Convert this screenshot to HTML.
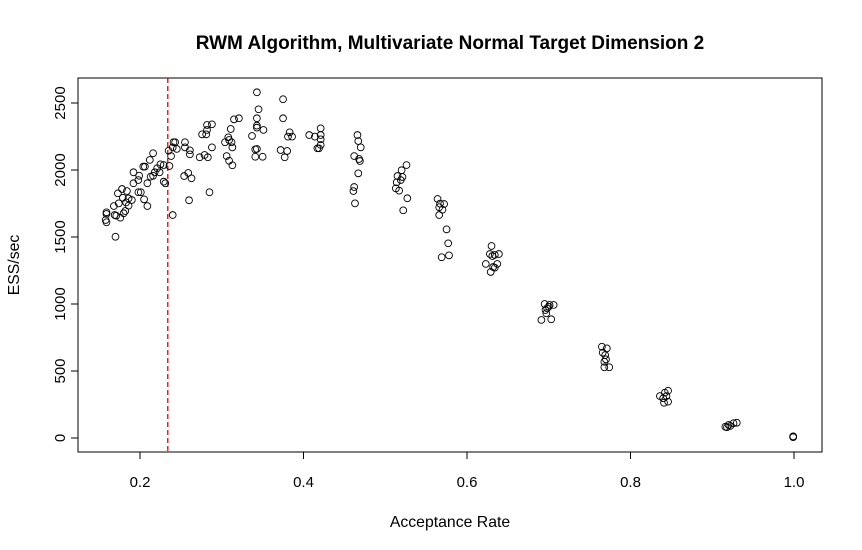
<!DOCTYPE html>
<html><head><meta charset="utf-8"><style>
body{margin:0;background:#fff}
svg{display:block;font-family:"Liberation Sans",Arial,sans-serif}
</style></head><body>
<svg id="chart" width="862" height="550">
<rect width="862" height="550" fill="#fff"/>
<text x="450" y="49" text-anchor="middle" font-weight="bold" font-size="19">RWM Algorithm, Multivariate Normal Target Dimension 2</text>
<text x="450" y="527" text-anchor="middle" font-size="15.8">Acceptance Rate</text>
<text transform="translate(19,265) rotate(-90)" text-anchor="middle" font-size="15.8">ESS/sec</text>
<rect x="78" y="78" width="744" height="374" fill="none" stroke="#000"/>
<g id="axes"></g>
<g id="points"></g>
</svg>
<script>
const xTicks=[0.2,0.4,0.6,0.8,1.0];
const xTickLabels=["0.2","0.4","0.6","0.8","1.0"];
const yTicks=[0,500,1000,1500,2000,2500];
const yTickLabels=["0","500","1000","1500","2000","2500"];
const optimalRate=0.234;
const acc=[0.343,0.375,0.345,0.315,0.321,0.343,0.375,0.343,0.343,0.351,0.421,0.383,0.381,0.386,0.407,0.414,0.421,0.421,0.417,0.419,0.421,0.337,0.311,0.282,0.288,0.276,0.281,0.282,0.308,0.309,0.304,0.312,0.313,0.341,0.343,0.341,0.350,0.372,0.380,0.377,0.288,0.273,0.279,0.283,0.306,0.309,0.313,0.285,0.260,0.240,0.254,0.259,0.263,0.255,0.255,0.261,0.261,0.241,0.243,0.240,0.245,0.238,0.235,0.236,0.229,0.231,0.216,0.212,0.225,0.229,0.221,0.204,0.206,0.218,0.213,0.216,0.224,0.192,0.199,0.209,0.198,0.192,0.198,0.201,0.205,0.209,0.178,0.184,0.173,0.179,0.186,0.190,0.183,0.174,0.186,0.168,0.182,0.180,0.169,0.171,0.176,0.159,0.159,0.158,0.159,0.170,
0.466,0.467,0.470,0.462,0.468,0.469,0.467,0.462,0.461,0.463,
0.526,0.520,0.515,0.521,0.519,0.514,0.513,0.517,0.527,0.522,
0.564,0.567,0.572,0.566,0.570,0.566,0.575,0.577,0.569,0.578,
0.630,0.628,0.634,0.639,0.631,0.623,0.632,0.637,0.634,0.629,
0.695,0.701,0.706,0.698,0.697,0.691,0.703,0.700,0.696,
0.765,0.771,0.766,0.769,0.770,0.768,0.768,0.774,
0.846,0.842,0.836,0.844,0.840,0.846,0.841,
0.916,0.920,0.926,0.930,0.922,0.918,
0.999,0.999,0.999,0.999];
const ess=[2580,2528,2453,2378,2386,2386,2386,2331,2316,2299,2311,2281,2249,2249,2261,2249,2261,2229,2162,2162,2187,2254,2306,2336,2341,2266,2266,2299,2244,2224,2207,2207,2169,2154,2157,2099,2099,2149,2142,2095,2169,2095,2112,2095,2104,2069,2035,1834,1774,1664,1955,1978,1938,2207,2169,2147,2117,2207,2207,2169,2157,2104,2144,2030,1913,1901,2125,2075,2042,2037,2013,2025,2025,1983,1950,1957,1983,1983,1957,1901,1925,1901,1834,1834,1781,1731,1858,1843,1826,1793,1788,1776,1758,1751,1734,1731,1694,1677,1664,1659,1644,1684,1672,1627,1610,1502,
2261,2216,2169,2104,2082,2067,1975,1873,1843,1751,
2037,1998,1955,1948,1925,1908,1863,1846,1789,1699,
1784,1749,1746,1722,1704,1664,1557,1453,1349,1363,
1433,1373,1366,1373,1358,1299,1276,1299,1271,1239,
1000,993,993,968,931,881,886,980,955,
681,669,637,619,587,569,528,528,
353,338,313,313,296,271,263,
84,97,110,114,90,80,
10,8,12,6];
const NS="http://www.w3.org/2000/svg";
function xs(v){return -23.5+v*817.5;}
function ys(v){return 438-v*0.134;}
const axes=document.getElementById('axes');
function mk(tag,attrs,parent){const e=document.createElementNS(NS,tag);for(const k in attrs)e.setAttribute(k,attrs[k]);parent.appendChild(e);return e;}
mk('line',{x1:xs(xTicks[0]),x2:xs(xTicks[xTicks.length-1]),y1:452,y2:452,stroke:'#000'},axes);
xTicks.forEach((t,i)=>{
 mk('line',{x1:xs(t),x2:xs(t),y1:452,y2:459,stroke:'#000'},axes);
 const tx=mk('text',{x:xs(t),y:487,'text-anchor':'middle','font-size':15},axes);
 tx.textContent=xTickLabels[i];
 
 
});
mk('line',{x1:78,x2:78,y1:ys(yTicks[0]),y2:ys(yTicks[yTicks.length-1]),stroke:'#000'},axes);
yTicks.forEach((t,i)=>{
 mk('line',{x1:71,x2:78,y1:ys(t),y2:ys(t),stroke:'#000'},axes);
 const tx=mk('text',{transform:`translate(65,${ys(t)}) rotate(-90)`,'text-anchor':'middle','font-size':15},axes);
 tx.textContent=yTickLabels[i];
 
 
});
const ref=mk('line',{x1:xs(optimalRate),x2:xs(optimalRate),y1:78,y2:452,stroke:'#e00000','stroke-width':1.3,'stroke-dasharray':'5,3'},axes);


const pts=document.getElementById('points');
acc.forEach((a,i)=>{
 const c=mk('circle',{cx:xs(a),cy:ys(ess[i]),r:3.4,fill:'none',stroke:'#000','stroke-width':0.9},pts);
 
 
});
</script>
</body></html>
